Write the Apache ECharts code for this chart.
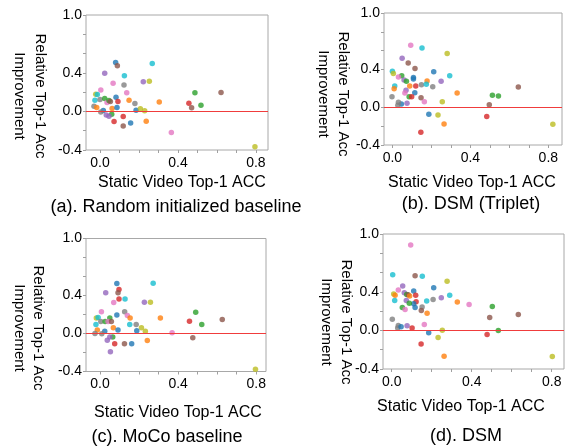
<!DOCTYPE html>
<html>
<head>
<meta charset="utf-8">
<script src="https://cdn.jsdelivr.net/npm/echarts@6/dist/echarts.min.js"></script>
<style>
  html, body { margin: 0; padding: 0; background: #fff; }
  #chart { width: 569px; height: 447px; }
</style>
</head>
<body>
<div id="chart"></div>
<script>
// [static video top-1 acc, relative top-1 acc improvement, class colour]
const panelA = [
  [0.080, 0.508, 'blue'], [0.089, 0.473, 'brown'], [0.268, 0.497, 'cyan'], [0.024, 0.397, 'purple'],
  [0.125, 0.369, 'cyan'], [0.067, 0.293, 'pink'], [0.123, 0.273, 'gray'], [0.222, 0.307, 'purple'],
  [0.253, 0.314, 'olive'], [0.004, 0.221, 'pink'], [0.137, 0.193, 'pink'], [-0.022, 0.179, 'olive'],
  [-0.014, 0.176, 'cyan'], [-0.026, 0.117, 'cyan'], [0.000, 0.124, 'gray'], [0.024, 0.135, 'green'],
  [0.082, 0.148, 'blue'], [0.036, 0.093, 'pink'], [0.046, 0.114, 'green'], [0.053, 0.104, 'brown'],
  [0.092, 0.104, 'red'], [0.149, 0.117, 'orange'], [0.179, 0.083, 'gray'], [0.304, 0.099, 'orange'],
  [-0.031, 0.055, 'gray'], [-0.017, 0.041, 'orange'], [0.017, 0.010, 'blue'], [0.004, -0.007, 'gray'],
  [0.062, 0.031, 'orange'], [0.087, 0.041, 'blue'], [0.185, 0.013, 'blue'], [0.207, 0.027, 'olive'],
  [0.229, 0.006, 'olive'], [0.060, -0.028, 'green'], [0.032, -0.038, 'purple'], [0.046, -0.049, 'purple'],
  [0.072, -0.104, 'red'], [0.119, -0.052, 'red'], [0.119, -0.152, 'brown'], [0.157, -0.121, 'blue'],
  [0.237, -0.101, 'orange'], [0.366, -0.218, 'pink'], [0.487, 0.193, 'green'], [0.456, 0.086, 'red'],
  [0.470, 0.037, 'brown'], [0.518, 0.065, 'green'], [0.621, 0.197, 'brown'], [0.795, -0.367, 'olive']
];

const panelB = [
  [0.094, 0.659, 'pink'], [0.152, 0.630, 'cyan'], [0.281, 0.571, 'olive'], [0.050, 0.521, 'purple'],
  [0.081, 0.471, 'brown'], [0.116, 0.412, 'brown'], [0.000, 0.381, 'cyan'], [0.005, 0.359, 'olive'],
  [0.212, 0.376, 'blue'], [0.048, 0.334, 'green'], [0.031, 0.320, 'pink'], [0.294, 0.334, 'cyan'],
  [0.108, 0.317, 'blue'], [0.108, 0.299, 'blue'], [0.060, 0.289, 'purple'], [0.072, 0.275, 'green'],
  [0.178, 0.278, 'orange'], [0.250, 0.275, 'purple'], [0.012, 0.225, 'cyan'], [0.089, 0.225, 'orange'],
  [0.120, 0.225, 'red'], [0.149, 0.239, 'gray'], [0.174, 0.243, 'cyan'], [0.207, 0.218, 'gray'],
  [0.009, 0.197, 'orange'], [0.070, 0.180, 'purple'], [0.064, 0.151, 'pink'], [0.115, 0.154, 'blue'],
  [0.332, 0.151, 'orange'], [-0.002, 0.112, 'gray'], [0.086, 0.112, 'green'], [0.099, 0.112, 'red'],
  [0.147, 0.101, 'brown'], [0.164, 0.059, 'pink'], [0.256, 0.059, 'olive'], [0.075, 0.042, 'purple'],
  [0.046, 0.035, 'blue'], [0.031, 0.053, 'gray'], [0.028, 0.021, 'gray'], [0.497, 0.027, 'brown'],
  [0.187, -0.074, 'blue'], [0.234, -0.081, 'olive'], [0.484, -0.099, 'red'], [0.265, -0.177, 'orange'],
  [0.146, -0.264, 'red'], [0.646, 0.215, 'brown'], [0.513, 0.127, 'green'], [0.544, 0.119, 'green'],
  [0.823, -0.180, 'olive']
];

const panelC = [
  [0.086, 0.526, 'blue'], [0.272, 0.530, 'cyan'], [0.097, 0.463, 'red'], [0.092, 0.428, 'brown'],
  [0.029, 0.428, 'purple'], [0.097, 0.362, 'red'], [0.128, 0.362, 'cyan'], [0.070, 0.326, 'pink'],
  [0.227, 0.330, 'purple'], [0.258, 0.330, 'olive'], [0.007, 0.228, 'pink'], [0.126, 0.228, 'gray'],
  [0.086, 0.194, 'blue'], [0.140, 0.190, 'pink'], [0.154, 0.162, 'orange'], [0.309, 0.162, 'orange'],
  [-0.019, 0.162, 'olive'], [-0.010, 0.168, 'cyan'], [0.050, 0.162, 'green'], [0.004, 0.126, 'gray'],
  [0.026, 0.126, 'green'], [0.041, 0.126, 'pink'], [0.058, 0.126, 'brown'], [-0.021, 0.095, 'cyan'],
  [0.152, 0.095, 'cyan'], [0.185, 0.095, 'gray'], [0.068, 0.060, 'orange'], [0.212, 0.060, 'olive'],
  [-0.014, 0.036, 'orange'], [0.092, 0.036, 'blue'], [0.188, 0.028, 'blue'], [0.232, 0.025, 'olive'],
  [0.024, 0.025, 'blue'], [-0.026, 0.000, 'gray'], [0.009, -0.003, 'gray'], [0.369, 0.008, 'pink'],
  [0.458, 0.130, 'red'], [0.065, -0.038, 'green'], [0.050, -0.038, 'purple'], [0.037, -0.070, 'purple'],
  [0.075, -0.108, 'red'], [0.125, -0.108, 'brown'], [0.162, -0.108, 'blue'], [0.242, -0.074, 'orange'],
  [0.475, -0.045, 'brown'], [0.053, -0.193, 'purple'], [0.490, 0.224, 'green'], [0.521, 0.095, 'green'],
  [0.626, 0.147, 'brown'], [0.796, -0.376, 'olive']
];

const panelD = [
  [0.095, 0.885, 'pink'], [0.005, 0.577, 'cyan'], [0.117, 0.566, 'brown'], [0.153, 0.563, 'cyan'],
  [0.277, 0.511, 'olive'], [0.210, 0.442, 'blue'], [0.055, 0.460, 'purple'], [0.033, 0.418, 'pink'],
  [0.110, 0.408, 'blue'], [0.010, 0.377, 'olive'], [0.017, 0.366, 'orange'], [0.063, 0.390, 'purple'],
  [0.075, 0.373, 'green'], [0.082, 0.370, 'brown'], [0.090, 0.356, 'orange'], [0.120, 0.366, 'red'],
  [0.290, 0.366, 'cyan'], [0.248, 0.338, 'purple'], [0.207, 0.322, 'gray'], [0.015, 0.311, 'cyan'],
  [0.073, 0.311, 'purple'], [0.175, 0.304, 'cyan'], [0.328, 0.294, 'orange'], [0.387, 0.270, 'pink'],
  [0.122, 0.297, 'red'], [0.110, 0.276, 'blue'], [0.088, 0.283, 'green'], [0.117, 0.239, 'blue'],
  [0.152, 0.242, 'gray'], [0.148, 0.207, 'brown'], [0.053, 0.239, 'green'], [0.067, 0.218, 'pink'],
  [0.177, 0.179, 'orange'], [0.503, 0.249, 'green'], [0.490, 0.135, 'brown'], [0.003, 0.117, 'gray'],
  [0.163, 0.062, 'pink'], [0.253, 0.003, 'olive'], [0.033, 0.052, 'gray'], [0.030, 0.024, 'gray'],
  [0.047, 0.037, 'blue'], [0.077, 0.048, 'purple'], [0.102, 0.024, 'red'], [0.185, -0.025, 'blue'],
  [0.477, -0.041, 'red'], [0.232, -0.073, 'olive'], [0.147, -0.142, 'red'], [0.633, 0.166, 'brown'],
  [0.533, 0.000, 'green'], [0.262, -0.267, 'orange'], [0.803, -0.270, 'olive']
];

const xTicks = [0, 0.1, 0.2, 0.3, 0.4, 0.5, 0.6, 0.7, 0.8];
const xLabels = [0, 0.4, 0.8];
const yLabels = [1.0, 0.4, 0.0, -0.4];
const captions = [
  '(a). Random initialized baseline',
  '(b). DSM (Triplet)',
  '(c). MoCo baseline',
  '(d). DSM'
];
const xName = 'Static Video Top-1 ACC';
const yName1 = 'Relative Top-1 Acc';
const yName2 = 'Improvement';

// matplotlib tab10
const palette = {
  blue: '#1f77b4', orange: '#ff7f0e', green: '#2ca02c', red: '#d62728', purple: '#9467bd',
  brown: '#8c564b', pink: '#e377c2', gray: '#7f7f7f', olive: '#bcbd22', cyan: '#17becf'
};
const ZERO_RED = '#f03c3c';

const FONT = '"Liberation Sans", Arial, sans-serif';

// layout per panel (pixels + axis range)
const panels = [
  { data: panelA, left: 86, top: 15, width: 182, height: 135, xMin: -0.072, xMax: 0.862,
    yn: [40, 19, 96], xn: [182, 183], cap: [176, 207] },
  { data: panelB, left: 384, top: 13, width: 178, height: 132, xMin: -0.043, xMax: 0.870,
    yn: [343, 323, 94], xn: [472, 183], cap: [471, 204] },
  { data: panelC, left: 86, top: 238.5, width: 180, height: 133, xMin: -0.072, xMax: 0.850,
    yn: [38, 19, 328], xn: [178, 413], cap: [167, 437] },
  { data: panelD, left: 383, top: 234, width: 181, height: 135, xMin: -0.0435, xMax: 0.8615,
    yn: [346, 326, 322], xn: [461, 407], cap: [466, 436] }
];

const grid = [], xAxis = [], yAxis = [], series = [], graphic = [];

panels.forEach((p, i) => {
  grid.push({
    left: p.left, top: p.top, width: p.width, height: p.height,
    show: true, borderColor: '#a8a8a8', borderWidth: 1
  });
  xAxis.push({
    gridIndex: i, type: 'value', min: p.xMin, max: p.xMax,
    axisLine: { show: false, onZero: false },
    axisTick: { show: true, length: 3, customValues: xTicks, lineStyle: { color: '#a0a0a0' } },
    axisLabel: {
      customValues: xLabels, margin: 6, color: '#000', fontSize: 14, fontFamily: FONT,
      formatter: v => v.toFixed(1)
    },
    splitLine: { show: false }
  });
  yAxis.push({
    gridIndex: i, type: 'value', min: -0.4, max: 1.0, interval: 0.2,
    axisLine: { show: false, onZero: false },
    axisTick: { show: true, length: 3, lineStyle: { color: '#a0a0a0' } },
    axisLabel: {
      margin: 4, color: '#000', fontSize: 14, fontFamily: FONT,
      showMinLabel: true, showMaxLabel: true,
      formatter: v => {
        const r = Math.round(v * 10) / 10;
        return yLabels.includes(r) ? r.toFixed(1) : '';
      }
    },
    splitLine: { show: false }
  });
  series.push({
    type: 'scatter', xAxisIndex: i, yAxisIndex: i,
    symbolSize: 5.5,
    data: p.data.map(d => ({ value: [d[0], d[1]], itemStyle: { color: palette[d[2]] } })),
    // red reference line at zero improvement
    markLine: {
      silent: true, symbol: 'none', animation: false,
      label: { show: false },
      lineStyle: { color: ZERO_RED, width: 1, type: 'solid' },
      emphasis: { disabled: true },
      data: [{ yAxis: 0 }]
    },
    z: 3
  });

  const txt = (text, x, y, size, rot) => ({
    type: 'text', x: x, y: y, rotation: rot || 0,
    style: { text: text, font: size + 'px ' + FONT, fill: '#000',
      textAlign: 'center', textVerticalAlign: 'middle' }
  });
  graphic.push(txt(yName1, p.yn[0], p.yn[2], 15, -Math.PI / 2));
  graphic.push(txt(yName2, p.yn[1], p.yn[2], 15, -Math.PI / 2));
  graphic.push(txt(xName, p.xn[0], p.xn[1], 16));
  graphic.push(txt(captions[i], p.cap[0], p.cap[1], 18));
});

const myChart = echarts.init(document.getElementById('chart'), null, { renderer: 'canvas' });
myChart.setOption({
  animation: false,
  backgroundColor: '#fff',
  grid: grid,
  xAxis: xAxis,
  yAxis: yAxis,
  series: series,
  graphic: graphic
});
</script>
</body>
</html>
